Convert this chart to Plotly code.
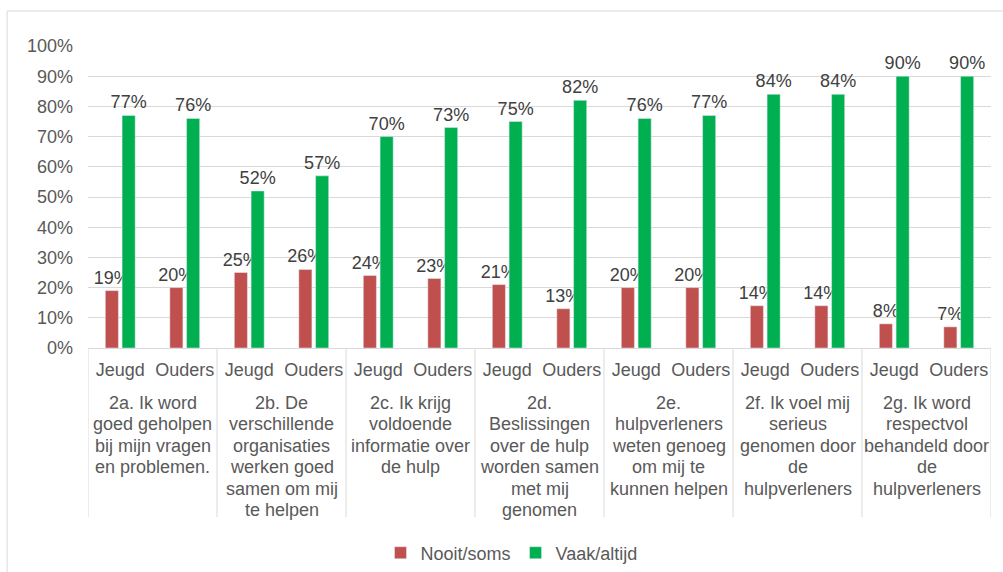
import plotly.graph_objects as go

groups = [
    "2a. Ik word<br>goed geholpen<br>bij mijn vragen<br>en problemen.",
    "2b. De<br>verschillende<br>organisaties<br>werken goed<br>samen om mij<br>te helpen",
    "2c. Ik krijg<br>voldoende<br>informatie over<br>de hulp",
    "2d.<br>Beslissingen<br>over de hulp<br>worden samen<br>met mij<br>genomen",
    "2e.<br>hulpverleners<br>weten genoeg<br>om mij te<br>kunnen helpen",
    "2f. Ik voel mij<br>serieus<br>genomen door<br>de<br>hulpverleners",
    "2g. Ik word<br>respectvol<br>behandeld door<br>de<br>hulpverleners",
]
subgroups = ["Jeugd", "Ouders"]

nooit_soms = [19, 20, 25, 26, 24, 23, 21, 13, 20, 20, 14, 14, 8, 7]
vaak_altijd = [77, 76, 52, 57, 70, 73, 75, 82, 76, 77, 84, 84, 90, 90]

n_sub = len(subgroups)
x_keys = [f"{gi}|{s}" for gi in range(len(groups)) for s in subgroups]
x_ticktext = [s for _ in groups for s in subgroups]

font_family = "Liberation Sans, Arial, sans-serif"
grid_col = "#D9D9D9"
text_col = "#595959"

fig = go.Figure()
for name, vals, color in [("Nooit/soms", nooit_soms, "#C0504D"),
                          ("Vaak/altijd", vaak_altijd, "#00B050")]:
    fig.add_trace(go.Bar(
        name=name, x=x_keys, y=vals,
        marker=dict(color=color),
        text=[f"{v}%" for v in vals], textposition="outside", constraintext="none",
        textfont=dict(size=18, color="#404040", family=font_family),
        cliponaxis=False, hoverinfo="name+y",
    ))

# plot geometry (pixels)
H, T, B = 572, 46, 224
ph = H - T - B
def py(pix):
    return (H - B - pix) / ph

LINE_H = 21.4
FIRST_LINE = 403
annotations = []
for gi, g in enumerate(groups):
    for li, line in enumerate(g.split("<br>")):
        annotations.append(dict(
            x=gi * n_sub + (n_sub - 1) / 2, xref="x",
            y=py(FIRST_LINE + li * LINE_H), yref="paper",
            xanchor="center", yanchor="middle", text=line, showarrow=False,
            font=dict(size=18, color=text_col, family=font_family),
        ))

shapes = []
for k in range(len(groups) + 1):
    shapes.append(dict(type="line", xref="x", yref="paper",
                       x0=k * n_sub - 0.5, x1=k * n_sub - 0.5, y0=0, y1=py(517),
                       line=dict(color=grid_col, width=1)))
# chart-area border (top and left edges visible)
shapes.append(dict(type="line", xref="paper", yref="paper", x0=-0.0896, x1=1.05,
                   y0=py(11), y1=py(11), line=dict(color=grid_col, width=1)))
shapes.append(dict(type="line", xref="paper", yref="paper", x0=-0.0896, x1=-0.0896,
                   y0=py(11), y1=py(600), line=dict(color=grid_col, width=1)))

fig.update_layout(
    width=1003, height=H,
    margin=dict(l=88, r=12, t=T, b=B, autoexpand=False),
    paper_bgcolor="white", plot_bgcolor="white",
    font=dict(family=font_family, size=18, color=text_col),
    barmode="group", bargap=0.48, bargroupgap=0.22,
    showlegend=True,
    legend=dict(orientation="h", x=0.469, xanchor="center", y=py(553), yanchor="middle",
                font=dict(size=18, color=text_col), traceorder="normal"),
    xaxis=dict(
        type="category", showline=True, linecolor=grid_col, linewidth=1,
        tickvals=x_keys, ticktext=x_ticktext,
        tickfont=dict(size=18, color=text_col), ticks="", tickangle=0,
        ticklabelstandoff=5, automargin=False, showgrid=False,
        range=[-0.5, len(x_keys) - 0.5],
    ),
    yaxis=dict(
        range=[0, 100], dtick=10, ticksuffix="%", showgrid=True, gridcolor=grid_col,
        gridwidth=1, zeroline=False, showline=False, automargin=False,
        ticklabelstandoff=14,
        tickfont=dict(size=18, color=text_col),
    ),
    annotations=annotations,
    shapes=shapes,
)

fig.write_html("out.html", config={"displayModeBar": False},
               post_script="document.body.style.margin='0px';")
